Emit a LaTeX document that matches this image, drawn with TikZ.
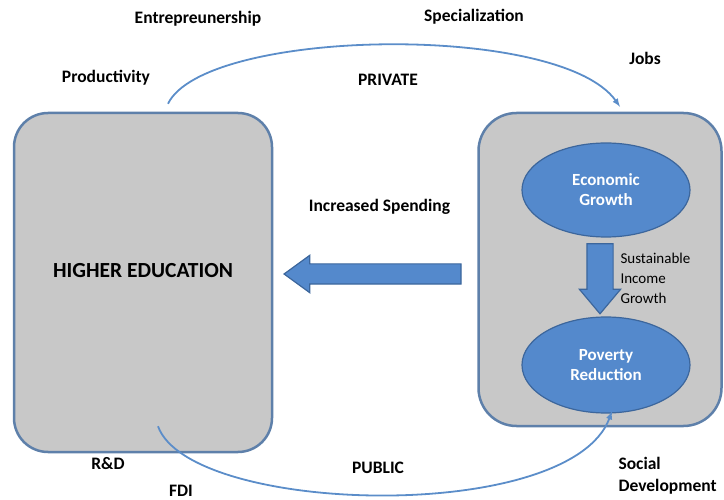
\documentclass[tikz,border=0pt]{standalone}
\usepackage{fontspec}
\setmainfont{Carlito}
\usetikzlibrary{shapes,arrows,positioning}
\definecolor{boxgray}{RGB}{200,200,200}
\definecolor{boxline}{RGB}{94,128,170}
\definecolor{ovalblue}{RGB}{84,137,204}
\definecolor{ovalline}{RGB}{60,102,156}
\definecolor{flowline}{RGB}{91,141,201}

\begin{document}
\begin{tikzpicture}[x=1pt,y=-1pt,
bigbox/.style={rectangle, rounded corners=34pt, draw=boxline, line width=2.5pt, fill=boxgray},
oval/.style={ellipse, draw=ovalline, line width=1.2pt, fill=ovalblue, text=white, font=\bfseries\fontsize{17}{20}\selectfont, align=center},
blockarrow/.style={single arrow, draw=ovalline, line width=1.2pt, fill=ovalblue, inner sep=0pt, single arrow head indent=0pt},
flow/.style={-latex, draw=flowline, line width=1.8pt},
lbl/.style={font=\bfseries\fontsize{17.5}{22}\selectfont}] % all sizes are in pixels of the 724x500 frame
\useasboundingbox (0,0) rectangle (724,500);

% the two big boxes
\node[bigbox, minimum width=258pt, minimum height=339pt](HE) at (143,282.5){};
\node[font=\bfseries\fontsize{21.5}{24}\selectfont] (HEtext) at ([yshift=12pt]HE.center){HIGHER EDUCATION};
\node[bigbox, minimum width=243pt, minimum height=313pt, rounded corners=38pt](RB) at (600,269.5){};

% inside the right box
\node[oval, minimum width=168pt, minimum height=94pt](EG) at (606,190){Economic\\Growth};
\node[oval, minimum width=168pt, minimum height=96pt](PR) at (606,365){Poverty\\Reduction};
\node[blockarrow, shape border rotate=270, text width=25pt, text height=25pt, minimum height=70pt, minimum width=40pt, single arrow head extend=7.5pt, single arrow tip angle=80](down) at (600,271){};
\node[font=\fontsize{15}{20}\selectfont, align=left, anchor=west](SIG) at (617,278){Sustainable\\Income\\Growth};

% spending arrow back to the left box
\node[blockarrow, shape border rotate=180, text width=19pt, text height=19pt, minimum height=177pt, minimum width=36pt, single arrow head extend=8.5pt, single arrow tip angle=72](spend) at (379.5,274){};
\node[lbl](IS)[above=45pt of spend]{Increased Spending};

% ends of the two flows
\coordinate (topA) at ([xshift=25pt,yshift=8pt]HE.north);
\coordinate (topB) at ([xshift=20pt,yshift=5pt]RB.north);
\coordinate (botA) at ([xshift=15pt,yshift=27pt]HE.south);
\coordinate (botB) at ([xshift=12pt,yshift=16pt]RB.south);
\draw[flow] (topA) .. controls (205,28) and (560,22) .. (topB);
\draw[flow] (botA) .. controls (190,515) and (570,525) .. (botB);

% labels round the flows
\node[lbl](entre) at (198,19){Entrepreunership};
\node[lbl](spec) at (474,17){Specialization};
\node[lbl](prod) at (106,78){Productivity};
\node[lbl](priv) at (388,80){PRIVATE};
\node[lbl](jobs) at (645,58){Jobs};
\node[lbl](rd) at (108,464){R\&D};
\node[lbl](pub) at (378,468){PUBLIC};
\node[lbl](fdi) at (181,491){FDI};
\node[lbl, align=left, anchor=west](soc) at (615,476){Social\\Development};

\end{tikzpicture}
\end{document}
